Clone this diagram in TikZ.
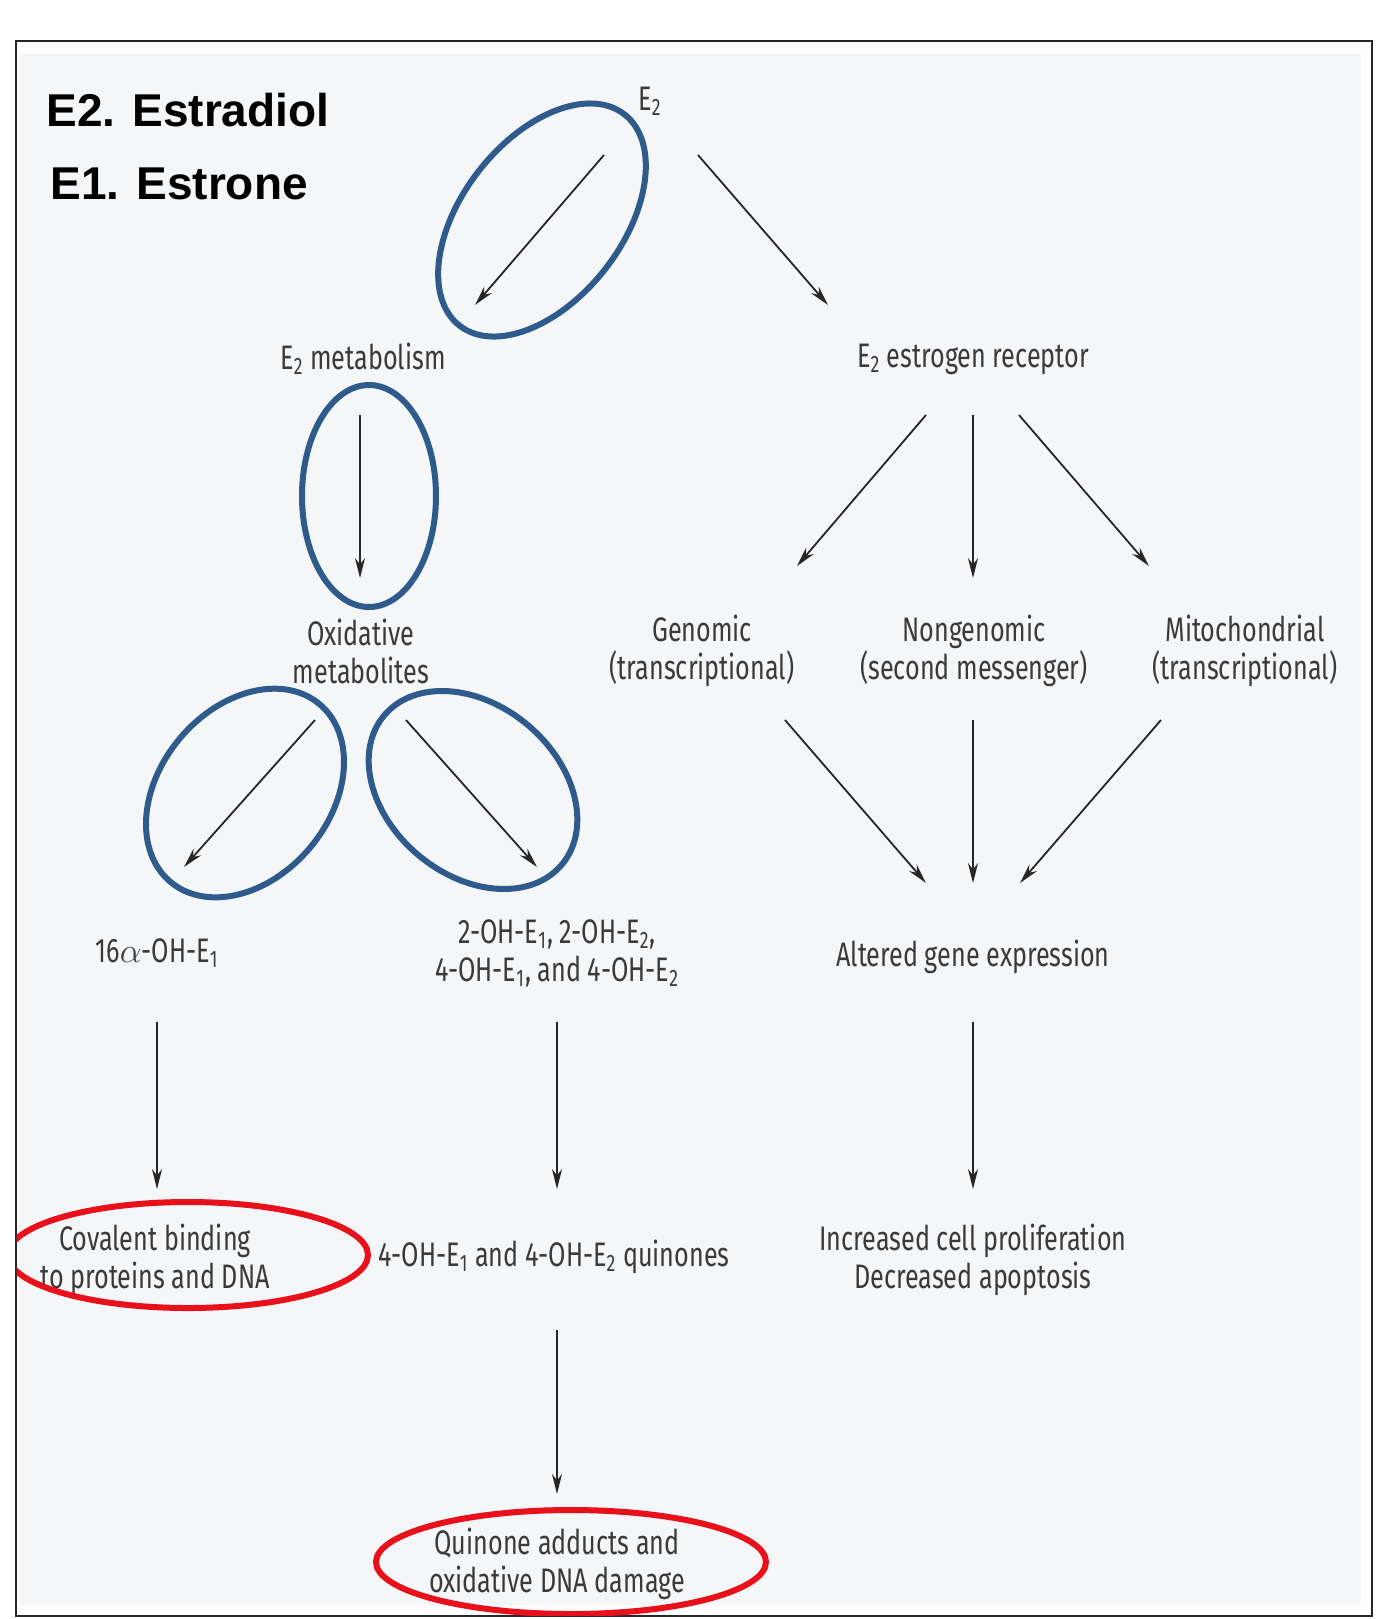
\documentclass[tikz,border=0pt]{standalone}
\usepackage{fontspec}
\setmainfont{Fira Sans}[FakeStretch=0.74]
\newfontfamily\titlefont{Liberation Sans}
\usetikzlibrary{arrows.meta}
\definecolor{txtc}{HTML}{3A3A3A}
\definecolor{ellblue}{HTML}{2F5A8C}
\definecolor{ellred}{HTML}{E8101A}
\definecolor{bgc}{HTML}{F5F6F8}
\tikzset{
  lbl/.style={font=\fontsize{17}{19}\selectfont, text=txtc, align=center, inner sep=0pt, yshift=-1.5pt},
  ttl/.style={font=\titlefont\bfseries\fontsize{23}{28}\selectfont, text=black, inner sep=0pt, anchor=base west},
  arr/.style={draw=black!85, line width=0.9pt, -{Stealth[length=10pt,width=5pt]}},
  blueell/.style={draw=ellblue, line width=3pt},
  redell/.style={draw=ellred, line width=3pt},
}
\begin{document}
\begin{tikzpicture}[x=0.5pt,y=-0.5pt]
\useasboundingbox (0,0) rectangle (1400,1619);
\fill[white] (0,0) rectangle (1400,1619);
\fill[bgc] (19,54) rectangle (1361,1605);
\draw[line width=1pt, black!85] (15.5,41) rectangle (1372,1616);

% titles
\node[ttl] (t2) at (46,126) {E2. Estradiol};
\node[ttl] (t1) at (50,199) {E1. Estrone};

% labels
\node[lbl] (e2) at (650,98) {E\textsubscript{2}};
\node[lbl] (metab) at (363,356) {E\textsubscript{2} metabolism};
\node[lbl] (rec) at (973,356) {E\textsubscript{2} estrogen receptor};
\node[lbl] (oxid) at (361,648) {Oxidative\\metabolites};
\node[lbl] (gen) at (702,648) {Genomic\\(transcriptional)};
\node[lbl] (nongen) at (974,648) {Nongenomic\\(second messenger)};
\node[lbl] (mito) at (1245,648) {Mitochondrial\\(transcriptional)};
\node[lbl] (a16) at (157,950) {16$\alpha$-OH-E\textsubscript{1}};
\node[lbl] (ohs) at (557,950) {2-OH-E\textsubscript{1}, 2-OH-E\textsubscript{2},\\4-OH-E\textsubscript{1}, and 4-OH-E\textsubscript{2}};
\node[lbl] (alt) at (973,954) {Altered gene expression};
\node[lbl] (cov) at (155,1257) {Covalent binding\\to proteins and DNA};
\node[lbl] (quin) at (554,1254) {4-OH-E\textsubscript{1} and 4-OH-E\textsubscript{2} quinones};
\node[lbl] (incr) at (973,1257) {Increased cell proliferation\\Decreased apoptosis};
\node[lbl] (qadd) at (557,1561) {Quinone adducts and\\oxidative DNA damage};

% arrow end points
\coordinate (p1s) at (604,155);  \coordinate (p1e) at (475,305);
\coordinate (p2s) at (698,155);  \coordinate (p2e) at (828,305);
\coordinate (p3s) at (360,415);  \coordinate (p3e) at (360,578);
\coordinate (p4s) at (926,415);  \coordinate (p4e) at (797,566);
\coordinate (p5s) at (973,415);  \coordinate (p5e) at (973,578);
\coordinate (p6s) at (1019,415); \coordinate (p6e) at (1149,566);
\coordinate (p7s) at (315,720);  \coordinate (p7e) at (184,867);
\coordinate (p8s) at (406,720);  \coordinate (p8e) at (537,867);
\coordinate (p9s) at (785,720);  \coordinate (p9e) at (926,883);
\coordinate (p10s) at (973,720); \coordinate (p10e) at (973,883);
\coordinate (p11s) at (1161,720);\coordinate (p11e) at (1020,883);
\coordinate (p12s) at (157,1022);\coordinate (p12e) at (157,1189);
\coordinate (p13s) at (557,1022);\coordinate (p13e) at (557,1189);
\coordinate (p14s) at (973,1022);\coordinate (p14e) at (973,1189);
\coordinate (p15s) at (557,1330);\coordinate (p15e) at (557,1494);

\foreach \i in {1,...,15} \draw[arr] (p\i s) -- (p\i e);

% blue ellipses
\draw[blueell] (542,220) ellipse[x radius=67pt, y radius=40pt, rotate=52];
\draw[blueell] (369,496) ellipse[x radius=33.5pt, y radius=55.5pt];
\draw[blueell] (245,793) ellipse[x radius=58pt, y radius=42.5pt, rotate=50];
\draw[blueell] (473,790) ellipse[x radius=58pt, y radius=42.5pt, rotate=-40];

% red ellipses
\begin{scope}
\clip (16.5,42) rectangle (1371,1615);
\draw[redell] (188,1255) ellipse[x radius=90pt, y radius=26.5pt];
\draw[redell] (571,1562) ellipse[x radius=97.5pt, y radius=26pt];
\end{scope}
\end{tikzpicture}
\end{document}
